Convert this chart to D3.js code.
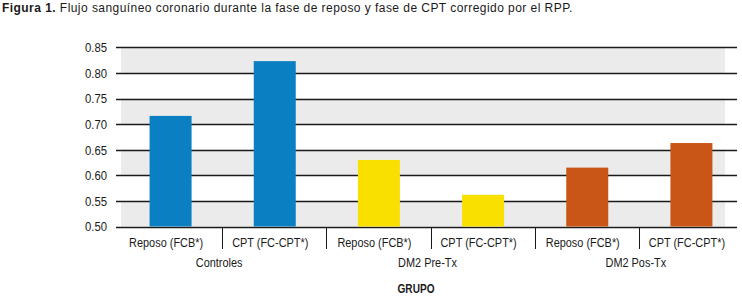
<!DOCTYPE html>
<html>
<head>
<meta charset="utf-8">
<script src="https://cdn.jsdelivr.net/npm/d3@7"></script>
<style>
  body { margin: 0; background: #fff; }
  svg text { font-family: "Liberation Sans", Arial, sans-serif; fill: #1a1a1a; }
</style>
</head>
<body>
<div id="chart"></div>
<script>
// chart values
var groups = ["Controles", "DM2 Pre-Tx", "DM2 Pos-Tx"];
var phases = ["Reposo (FCB*)", "CPT (FC-CPT*)"];
var values = [0.716, 0.823, 0.630, 0.562, 0.615, 0.663];
var yTicks = [0.50, 0.55, 0.60, 0.65, 0.70, 0.75, 0.80, 0.85];
var groupColors = ["#0a80c2", "#f9e000", "#c95617"];

function init() {
    var w = 742; // width of the SVG
    var h = 297; // height of the SVG
    var narrow = 0.84; // horizontal squeeze to imitate a condensed face

    var svg = d3.select("#chart")
                .append("svg")
                .attr("width", w)
                .attr("height", h);

    function place(x, y) { return "translate(" + x + "," + y + ") scale(" + narrow + ",1)"; }

    // build the rows: one per bar
    var rows = [];
    groups.forEach(function(g, gi) {
        phases.forEach(function(p, pi) {
            rows.push({ key: g + "|" + p, group: g, gi: gi, phase: p, value: values[gi * phases.length + pi] });
        });
    });

    var xScale = d3.scaleBand()
                   .domain(rows.map(d => d.key))
                   .range([118, 743]);

    var yScale = d3.scaleLinear()
                   .domain([0.50, 0.85])
                   .range([226.5, 47.3]);

    // title
    var title = svg.append("text")
                   .attr("x", 2)
                   .attr("y", 12)
                   .style("font-size", "12px")
                   .style("letter-spacing", "0.45px");
    title.append("tspan").style("font-weight", "bold").text("Figura 1.");
    title.append("tspan").text(" Flujo sanguíneo coronario durante la fase de reposo y fase de CPT corregido por el RPP.");

    // alternating grey bands
    var bands = d3.range(0, yTicks.length - 1).filter(i => (yTicks.length - 2 - i) % 2 === 0);
    svg.selectAll(".band")
       .data(bands)
       .enter()
       .append("rect")
       .attr("x", 121)
       .attr("width", 725 - 121)
       .attr("y", i => yScale(yTicks[i + 1]))
       .attr("height", i => yScale(yTicks[i]) - yScale(yTicks[i + 1]))
       .attr("fill", "#ebebeb");

    // horizontal grid lines
    svg.selectAll(".grid")
       .data(yTicks)
       .enter()
       .append("line")
       .attr("x1", 116)
       .attr("x2", 737)
       .attr("y1", d => Math.round(yScale(d)) + 0.5)
       .attr("y2", d => Math.round(yScale(d)) + 0.5)
       .attr("stroke", "#1a1a1a")
       .attr("stroke-width", 1.3);

    // y tick labels
    svg.selectAll(".ylab")
       .data(yTicks)
       .enter()
       .append("text")
       .attr("transform", d => place(107, yScale(d)))
       .attr("dy", "0.36em")
       .attr("text-anchor", "end")
       .style("font-size", "13.5px")
       .text(d3.format(".2f"));

    // bars
    var barW = 42;
    svg.selectAll(".bar")
       .data(rows)
       .enter()
       .append("rect")
       .attr("x", d => xScale(d.key) + xScale.bandwidth() / 2 - barW / 2 + 0.5)
       .attr("y", d => yScale(d.value))
       .attr("width", barW)
       .attr("height", d => yScale(0.50) - yScale(d.value))
       .attr("fill", d => groupColors[d.gi]);

    // separators between categories
    svg.selectAll(".sep")
       .data(rows.slice(1))
       .enter()
       .append("line")
       .attr("x1", d => Math.round(xScale(d.key)) + 0.5)
       .attr("x2", d => Math.round(xScale(d.key)) + 0.5)
       .attr("y1", 227)
       .attr("y2", 249)
       .attr("stroke", "#1a1a1a")
       .attr("stroke-width", 1);

    // category labels
    svg.selectAll(".xlab")
       .data(rows)
       .enter()
       .append("text")
       .attr("transform", d => place(xScale(d.key) + xScale.bandwidth() / 2 - 4, 246.5))
       .attr("text-anchor", "middle")
       .style("font-size", "13px")
       .text(d => d.phase);

    // group labels
    svg.selectAll(".glab")
       .data(groups)
       .enter()
       .append("text")
       .attr("transform", (d, i) => place(xScale(rows[i * 2].key) + xScale.bandwidth() - 3, 267))
       .attr("text-anchor", "middle")
       .style("font-size", "13px")
       .text(d => d);

    // axis title
    svg.append("text")
       .attr("transform", place(416, 293))
       .attr("text-anchor", "middle")
       .style("font-size", "12px")
       .style("font-weight", "bold")
       .text("GRUPO");
}

window.onload = init;
</script>
</body>
</html>
